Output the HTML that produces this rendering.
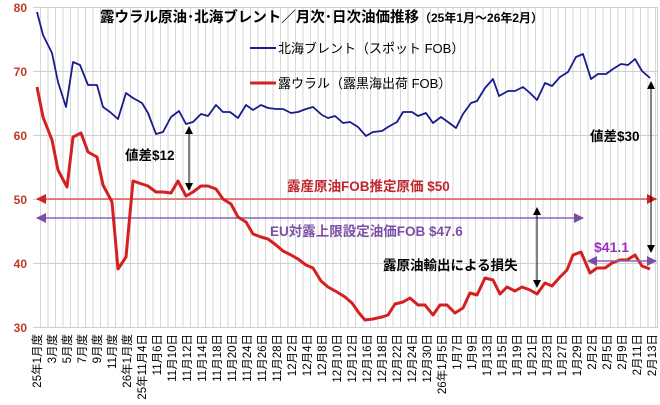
<!DOCTYPE html>
<html><head><meta charset="utf-8"><style>
body{margin:0;background:#fff;}
svg{display:block;font-family:"Liberation Sans","Noto Sans CJK JP",sans-serif;}
</style></head><body>
<svg width="660" height="405" viewBox="0 0 660 405" xmlns="http://www.w3.org/2000/svg">
<defs>
<pattern id="vgp" x="40" y="0" width="7.5" height="10" patternUnits="userSpaceOnUse"><rect x="0" y="0" width="1" height="10" fill="#d6d6d6"/></pattern>
<marker id="ab" markerWidth="8" markerHeight="8" refX="7" refY="4" orient="auto-start-reverse" markerUnits="userSpaceOnUse"><path d="M0,0 L8,4 L0,8 z" fill="#000"/></marker>
<marker id="ar" markerWidth="10" markerHeight="10" refX="9" refY="5" orient="auto-start-reverse" markerUnits="userSpaceOnUse"><path d="M0,0 L10,5 L0,10 z" fill="#d42020"/></marker>
<marker id="ap" markerWidth="10" markerHeight="10" refX="9" refY="5" orient="auto-start-reverse" markerUnits="userSpaceOnUse"><path d="M0,0 L10,5 L0,10 z" fill="#7b4fa8"/></marker>
</defs>
<rect x="0" y="0" width="660" height="405" fill="#fff"/>
<rect x="40" y="7" width="617" height="321" fill="url(#vgp)"/>
<g stroke="#cfcfcf" stroke-width="1">
<line x1="33" y1="7.5" x2="657" y2="7.5"/><line x1="33" y1="71.5" x2="657" y2="71.5"/>
<line x1="33" y1="135.5" x2="657" y2="135.5"/><line x1="33" y1="199.5" x2="657" y2="199.5"/>
<line x1="33" y1="263.5" x2="657" y2="263.5"/><line x1="33" y1="327.5" x2="657" y2="327.5"/>
<line x1="657.5" y1="7" x2="657.5" y2="328"/>
</g>
<g fill="#c0392b" font-size="12" font-weight="bold" text-anchor="end">
<text x="27" y="12">80</text><text x="27" y="76">70</text><text x="27" y="140">60</text>
<text x="27" y="204">50</text><text x="27" y="268">40</text><text x="27" y="332">30</text>
</g>
<text x="100" y="22" font-size="14.5" font-weight="bold">露ウラル原油･北海ブレント／月次･日次油価推移<tspan font-size="12">（25年1月～26年2月）</tspan></text>
<line x1="250" y1="48" x2="276" y2="48" stroke="#1a1a8c" stroke-width="2"/>
<text x="278" y="53" font-size="13">北海ブレント（スポット FOB）</text>
<line x1="250" y1="83" x2="276" y2="83" stroke="#d42020" stroke-width="3"/>
<text x="278" y="88" font-size="13">露ウラル（露黒海出荷 FOB）</text>
<line x1="37" y1="199" x2="656" y2="199" stroke="#e05a5a" stroke-width="1.5" marker-start="url(#ar)" marker-end="url(#ar)"/>
<line x1="37" y1="218" x2="583" y2="218" stroke="#8a65b5" stroke-width="1.5" marker-start="url(#ap)" marker-end="url(#ap)"/>
<polyline fill="none" stroke="#1a1a8c" stroke-width="1.8" stroke-linejoin="round" points="37,12 43,35 52,53 58,82 66,107 73,62 80,65 88,85 97,85 103,107 110,112 118,119 126,93 133,98 142,103 148,113 156,134 163,132 171,117 179,111 186,124 193,122 201,114 208,116 216,105 223,112 230,112 238,118 246,105 253,110 261,105 268,108 276,109 283,109 291,113 298,112 306,109 313,107 322,115 328,118 335,116 343,123 350,122 358,127 366,136 373,132 382,131 388,127 397,122 403,112 412,112 418,116 426,113 433,123 441,117 448,122 456,128 463,114 471,103 477,101 485,88 493,79 499,96 508,91 515,91 523,87 530,93 537,100 545,83 552,86 560,77 568,72 576,57 583,54 591,79 598,74 606,74 613,69 621,64 628,65 635,59 642,71 650,78"/>
<polyline fill="none" stroke="#d42020" stroke-width="3" stroke-linejoin="round" points="37,87 43,117 52,140 58,170 67,187 73,137 81,133 88,152 97,157 103,185 112,202 118,269 126,257 133,181 142,184 148,186 156,192 163,192 171,193 178,181 186,196 193,192 201,186 208,186 216,189 223,199 231,204 238,217 246,222 253,234 261,237 268,239 276,245 283,251 291,255 298,259 306,265 313,268 321,281 328,287 337,292 345,297 352,303 359,313 365,320 373,319 382,317 388,315 395,304 403,302 410,298 418,305 425,305 433,315 440,305 447,305 455,313 463,308 470,293 477,295 485,278 493,280 500,294 507,287 515,291 522,287 530,290 537,294 545,283 552,286 560,277 567,270 573,255 581,252 590,273 597,268 605,268 612,263 620,260 627,260 635,255 642,266 650,269"/>
<line x1="189" y1="127" x2="189" y2="190" stroke="#000" stroke-width="1" marker-start="url(#ab)" marker-end="url(#ab)"/>
<line x1="651" y1="82" x2="651" y2="252" stroke="#000" stroke-width="1" marker-start="url(#ab)" marker-end="url(#ab)"/>
<line x1="537" y1="208" x2="537" y2="287" stroke="#000" stroke-width="1" marker-start="url(#ab)" marker-end="url(#ab)"/>
<line x1="588" y1="261" x2="656" y2="261" stroke="#8a65b5" stroke-width="1.5" marker-start="url(#ap)" marker-end="url(#ap)"/>
<g font-weight="bold">
<text x="125" y="160" font-size="13.5">値差$12</text>
<text x="590" y="141" font-size="13.5">値差$30</text>
<text x="383" y="270" font-size="13.5">露原油輸出による損失</text>
<text x="287" y="191" font-size="13.5" fill="#c0262d">露産原油FOB推定原価 $50</text>
<text x="270" y="236" font-size="13.5" fill="#7b4fa8">EU対露上限設定油価FOB $47.6</text>
<text x="594" y="252" font-size="14" fill="#9b30c0">$41.1</text>
</g>
<g font-size="11.5" text-anchor="end">
<text transform="translate(41,334) rotate(-90)">25年1月度</text>
<text transform="translate(56,334) rotate(-90)">3月度</text>
<text transform="translate(71,334) rotate(-90)">5月度</text>
<text transform="translate(86,334) rotate(-90)">7月度</text>
<text transform="translate(101,334) rotate(-90)">9月度</text>
<text transform="translate(116,334) rotate(-90)">11月度</text>
<text transform="translate(131,334) rotate(-90)">26年1月度</text>
<text transform="translate(146,334) rotate(-90)">25年11月4日</text>
<text transform="translate(161,334) rotate(-90)">11月6日</text>
<text transform="translate(176,334) rotate(-90)">11月10日</text>
<text transform="translate(191,334) rotate(-90)">11月12日</text>
<text transform="translate(206,334) rotate(-90)">11月14日</text>
<text transform="translate(221,334) rotate(-90)">11月18日</text>
<text transform="translate(236,334) rotate(-90)">11月20日</text>
<text transform="translate(251,334) rotate(-90)">11月24日</text>
<text transform="translate(266,334) rotate(-90)">11月26日</text>
<text transform="translate(281,334) rotate(-90)">11月28日</text>
<text transform="translate(296,334) rotate(-90)">12月2日</text>
<text transform="translate(311,334) rotate(-90)">12月4日</text>
<text transform="translate(326,334) rotate(-90)">12月8日</text>
<text transform="translate(341,334) rotate(-90)">12月10日</text>
<text transform="translate(356,334) rotate(-90)">12月12日</text>
<text transform="translate(371,334) rotate(-90)">12月16日</text>
<text transform="translate(386,334) rotate(-90)">12月18日</text>
<text transform="translate(401,334) rotate(-90)">12月22日</text>
<text transform="translate(416,334) rotate(-90)">12月24日</text>
<text transform="translate(431,334) rotate(-90)">12月30日</text>
<text transform="translate(446,334) rotate(-90)">26年1月5日</text>
<text transform="translate(461,334) rotate(-90)">1月7日</text>
<text transform="translate(476,334) rotate(-90)">1月9日</text>
<text transform="translate(491,334) rotate(-90)">1月13日</text>
<text transform="translate(506,334) rotate(-90)">1月15日</text>
<text transform="translate(521,334) rotate(-90)">1月19日</text>
<text transform="translate(536,334) rotate(-90)">1月21日</text>
<text transform="translate(551,334) rotate(-90)">1月23日</text>
<text transform="translate(566,334) rotate(-90)">1月27日</text>
<text transform="translate(581,334) rotate(-90)">1月29日</text>
<text transform="translate(596,334) rotate(-90)">2月2日</text>
<text transform="translate(611,334) rotate(-90)">2月5日</text>
<text transform="translate(626,334) rotate(-90)">2月9日</text>
<text transform="translate(641,334) rotate(-90)">2月11日</text>
<text transform="translate(656,334) rotate(-90)">2月13日</text>
</g>
</svg>
</body></html>
